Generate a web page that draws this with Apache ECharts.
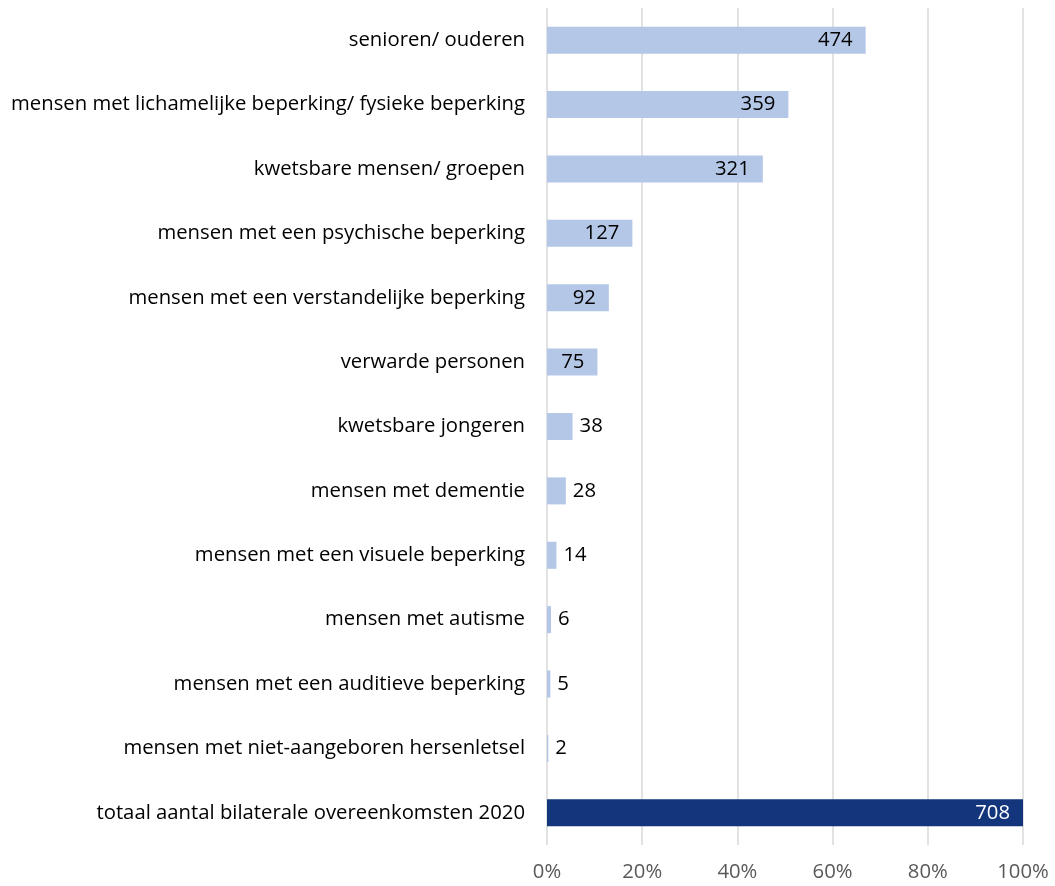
<!DOCTYPE html>
<html>
<head>
<meta charset="utf-8">
<script src="https://cdn.jsdelivr.net/npm/echarts@6/dist/echarts.min.js"></script>
<style>html,body{margin:0;padding:0;background:#fff}#c{width:1055px;height:886px}</style>
</head>
<body>
<div id="c"></div>
<script>
const categories = [
  "senioren/ ouderen",
  "mensen met lichamelijke beperking/ fysieke beperking",
  "kwetsbare mensen/ groepen",
  "mensen met een psychische beperking",
  "mensen met een verstandelijke beperking",
  "verwarde personen",
  "kwetsbare jongeren",
  "mensen met dementie",
  "mensen met een visuele beperking",
  "mensen met autisme",
  "mensen met een auditieve beperking",
  "mensen met niet-aangeboren hersenletsel",
  "totaal aantal bilaterale overeenkomsten 2020"
];
const counts = [474, 359, 321, 127, 92, 75, 38, 28, 14, 6, 5, 2, 708];
const total = 708;
const tickLabels = ["0%", "20%", "40%", "60%", "80%", "100%"];

const FONT = "Open Sans";
const FS = 20.3;
const LIGHT = "#B4C7E7";
const DARK = "#12357C";

const data = counts.map((c, i) => {
  const isTotal = i === counts.length - 1;
  const big = c >= 50;
  return {
    value: c / total * 100,
    itemStyle: { color: isTotal ? DARK : LIGHT },
    label: {
      show: true,
      position: big ? "insideRight" : "right",
      distance: big ? 13 : 7,
      color: isTotal ? "#ffffff" : "#000000",
      fontFamily: FONT,
      fontSize: FS,
      formatter: () => String(c)
    }
  };
});

const chart = echarts.init(document.getElementById("c"), null, { renderer: "canvas" });
chart.setOption({
  animation: false,
  backgroundColor: "#ffffff",
  grid: { left: 547, right: 32, top: 8, bottom: 41, containLabel: false },
  xAxis: {
    type: "value",
    min: 0,
    max: 100,
    interval: 20,
    axisLine: { show: false },
    axisTick: { show: false },
    splitLine: { show: true, lineStyle: { color: "#D9D9D9", width: 1.5 } },
    axisLabel: {
      color: "#595959",
      fontFamily: FONT,
      fontSize: FS,
      margin: 17,
      formatter: v => tickLabels[Math.round(v / 20)]
    }
  },
  yAxis: {
    type: "category",
    data: categories,
    inverse: true,
    axisLine: { show: false },
    axisTick: { show: false },
    axisLabel: {
      color: "#000000",
      fontFamily: FONT,
      fontSize: FS,
      margin: 22
    }
  },
  series: [{
    type: "bar",
    data: data,
    barWidth: 27
  }]
});
</script>
</body>
</html>
